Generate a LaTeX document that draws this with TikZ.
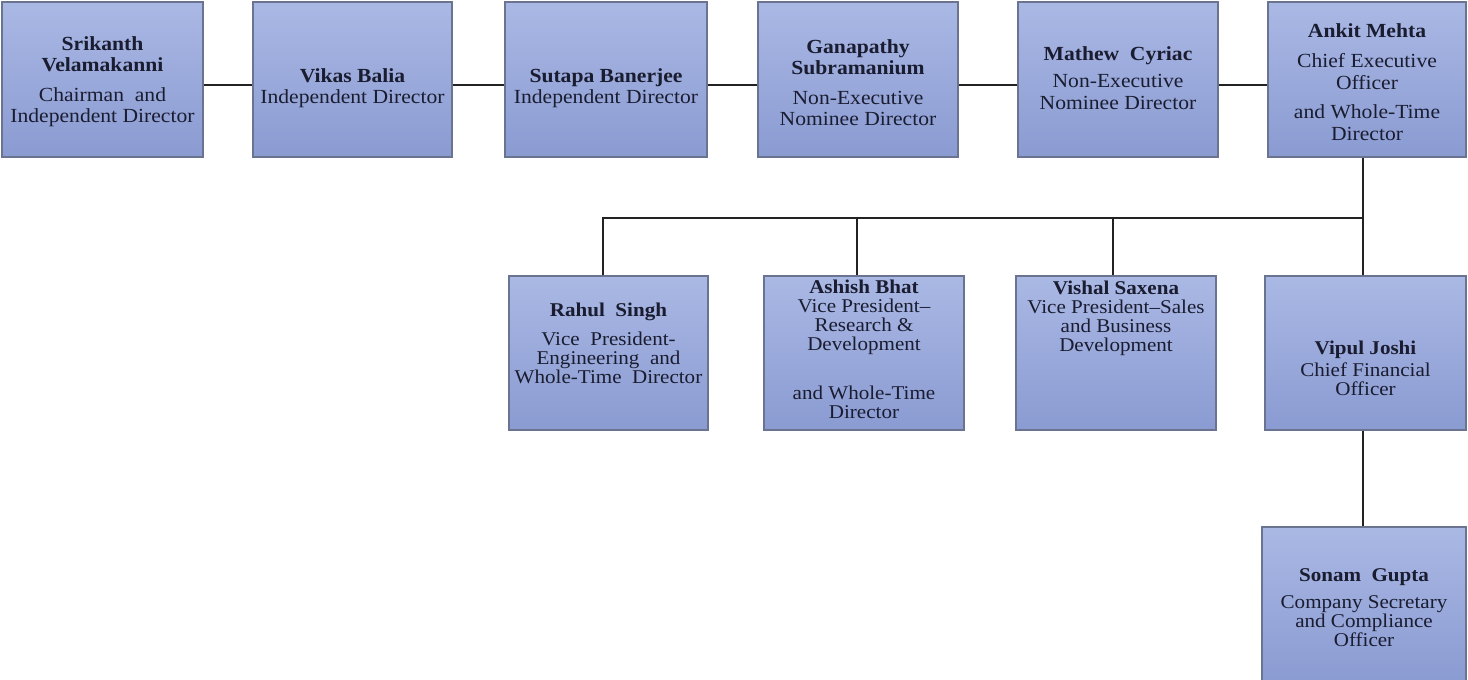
\documentclass[tikz,border=0pt]{standalone}
\usepackage{fontspec}
\setmainfont{Liberation Serif}[FakeStretch=1.08]
\definecolor{boxtop}{HTML}{AAB8E4}
\definecolor{boxbot}{HTML}{8A9BD2}
\definecolor{boxline}{HTML}{6A7490}
\definecolor{txtcol}{HTML}{1A1C30}
\definecolor{linecol}{HTML}{222222}
\tikzset{
  orgbox/.style={draw=boxline, line width=1.1pt, top color=boxtop, bottom color=boxbot, inner sep=0pt},
  orgtxt/.style={anchor=north, inner sep=0pt, align=center, text=txtcol, font=\fontsize{20}{21.5}\selectfont},
  orgtxtb/.style={orgtxt, font=\fontsize{19.5}{19}\selectfont},
  conn/.style={draw=linecol, line width=1.5pt}
}
\begin{document}
\begin{tikzpicture}[x=1pt,y=-1pt]
\useasboundingbox (0,0) rectangle (1468,680);
% top row boxes
\node[orgbox, minimum width=201pt, minimum height=155pt] (b1) at (102.5,79.5) {};
\node[orgbox, minimum width=199pt, minimum height=155pt] (b2) at (352.5,79.5) {};
\node[orgbox, minimum width=202pt, minimum height=155pt] (b3) at (606,79.5) {};
\node[orgbox, minimum width=200pt, minimum height=155pt] (b4) at (858,79.5) {};
\node[orgbox, minimum width=200pt, minimum height=155pt] (b5) at (1118,79.5) {};
\node[orgbox, minimum width=198pt, minimum height=155pt] (b6) at (1367,79.5) {};
% second row
\node[orgbox, minimum width=199pt, minimum height=154pt] (rahul) at (608.5,353) {};
\node[orgbox, minimum width=200pt, minimum height=154pt] (ashish) at (864,353) {};
\node[orgbox, minimum width=200pt, minimum height=154pt] (vishal) at (1116,353) {};
\node[orgbox, minimum width=201pt, minimum height=154pt] (vipul) at (1365.5,353) {};
\node[orgbox, minimum width=204pt, minimum height=155pt] (sonam) at (1364,604.5) {};
% texts
\node[orgtxt] (t1) at (102.5,36) {\textbf{Srikanth}\\\textbf{Velamakanni}\\[8pt]Chairman\ \ and\\Independent Director};
\node[orgtxt] (t2) at (352.5,68) {\textbf{Vikas Balia}\\Independent Director};
\node[orgtxt] (t3) at (606,68) {\textbf{Sutapa Banerjee}\\Independent Director};
\node[orgtxt] (t4) at (858,39) {\textbf{Ganapathy}\\\textbf{Subramanium}\\[8pt]Non-Executive\\Nominee Director};
\node[orgtxt] (t5) at (1118,46) {\textbf{Mathew\ \ Cyriac}\\[6pt]Non-Executive\\Nominee Director};
\node[orgtxt] (t6) at (1367,23) {\textbf{Ankit Mehta}\\[9pt]Chief Executive\\Officer\\[8pt]and Whole-Time\\Director};
\node[orgtxtb] (t7) at (608.5,303) {\textbf{Rahul\ \ Singh}\\[10pt]Vice\ \ President-\\Engineering\ \ and\\Whole-Time\ \ Director};
\node[orgtxtb] (t8) at (864,280) {\textbf{Ashish Bhat}\\Vice President--\\Research \&\\Development\\[30pt]and Whole-Time\\Director};
\node[orgtxtb] (t9) at (1116,281) {\textbf{Vishal Saxena}\\Vice President--Sales\\and Business\\Development};
\node[orgtxtb] (t10) at (1365.5,341) {\textbf{Vipul Joshi}\\[3pt]Chief Financial\\Officer};
\node[orgtxtb] (t11) at (1364,568) {\textbf{Sonam\ \ Gupta}\\[8pt]Company Secretary\\and Compliance\\Officer};
% connectors top row
\draw[conn] ([yshift=-5.5pt]b1.east) -- ([yshift=-5.5pt]b2.west);
\draw[conn] ([yshift=-5.5pt]b2.east) -- ([yshift=-5.5pt]b3.west);
\draw[conn] ([yshift=-5.5pt]b3.east) -- ([yshift=-5.5pt]b4.west);
\draw[conn] ([yshift=-5.5pt]b4.east) -- ([yshift=-5.5pt]b5.west);
\draw[conn] ([yshift=-5.5pt]b5.east) -- ([yshift=-5.5pt]b6.west);
% bus
\coordinate (busR) at (1363,218);
\coordinate (busL) at (603,218);
\coordinate (busA) at (857,218);
\coordinate (busV) at (1113,218);
\draw[conn] (busR |- b6.south) -- (busR |- vipul.north);
\draw[conn] (busL |- rahul.north) -- (busL) -- (busR);
\draw[conn] (busA) -- (busA |- ashish.north);
\draw[conn] (busV) -- (busV |- vishal.north);
\draw[conn] (busR |- vipul.south) -- (busR |- sonam.north);
\end{tikzpicture}
\end{document}
